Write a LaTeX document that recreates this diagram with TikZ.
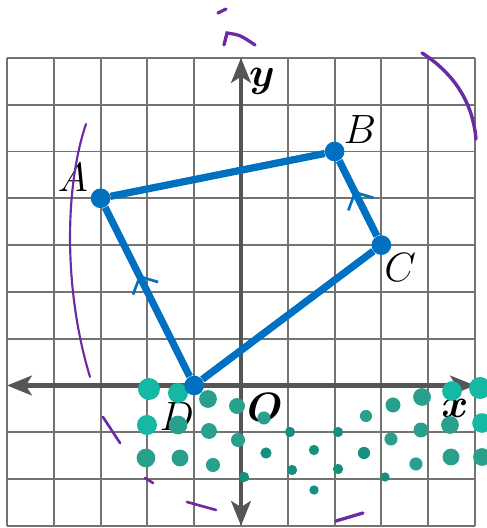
\documentclass[tikz,border=0pt]{standalone}
\usepackage{tikz}
\usepackage{mathtools}
\usepackage{bm}
\usetikzlibrary{positioning, arrows.meta, calc, decorations.markings}

\definecolor{quadblue}{RGB}{0,112,192}
\definecolor{gridgray}{RGB}{115,115,115}
\definecolor{axisgray}{RGB}{85,85,85}
\definecolor{inkpurple}{RGB}{108,42,166}
\definecolor{tealA}{RGB}{20,184,164}
\definecolor{tealB}{RGB}{40,160,140}
\definecolor{tealC}{RGB}{22,143,128}

\newcommand{\labelfont}{\fontsize{26pt}{30pt}\selectfont}

\begin{document}
\begin{tikzpicture}[
	gridline/.style={gridgray, line width=1.1pt},
	axisline/.style={axisgray, line width=2.8pt, {Stealth[length=5.3mm, width=4.2mm, inset=1.3mm]}-{Stealth[length=5.3mm, width=4.2mm, inset=1.3mm]}},
	side/.style={quadblue, line width=4.4pt},
	midarrow/.style={side, postaction={decorate}, decoration={markings, mark=at position 0.6 with {\arrow{Straight Barb[length=2.8mm, width=6mm, line width=1.6pt]}}}},
	vtx/.style={circle, fill=quadblue, inner sep=0pt, minimum size=4.2mm},
	lbl/.style={font=\labelfont, inner sep=0pt},
	ink/.style={inkpurple, line width=1.6pt, line cap=round}
]
	\useasboundingbox (-5.1496,-3.0449) rectangle (5.2564,8.2372);

	\draw[gridline] (-5,-3) grid (5,7);
	\coordinate (xl) at (-5,0);
	\coordinate (xr) at (5,0);
	\coordinate (yb) at (0,-3);
	\coordinate (yt) at (0,7);
	\draw[axisline] (xl) -- (xr);
	\draw[axisline] (yb) -- (yt);

	\node[lbl] (lbly) at (0.45,6.50) {$\bm{y}$};
	\node[lbl] (lblx) at (4.57,-0.48) {$\bm{x}$};
	\node[lbl] (lblO) at (0.51,-0.46) {$\bm{O}$};
	\node[lbl] (lblA) at (-3.59,4.45) {$A$};
	\node[lbl] (lblB) at (2.54,5.46) {$B$};
	\node[lbl] (lblC) at (3.40,2.53) {$C$};
	\node[lbl] (lblD) at (-1.37,-0.67) {$D$};

	% scattered teal spots over the lower strip
	\foreach \x/\y/\r/\c in {
		-1.966/-0.075/0.235/tealA, -1.346/-0.160/0.214/tealA, -0.705/-0.288/0.19/tealB,
		-0.085/-0.438/0.17/tealB, -2.009/-0.844/0.214/tealA, -1.346/-0.844/0.2/tealB,
		-0.684/-0.972/0.17/tealB, -0.064/-1.165/0.15/tealB, 0.491/-0.694/0.14/tealB,
		1.047/-0.994/0.11/tealC, -2.030/-1.549/0.2/tealB, -1.303/-1.549/0.18/tealB,
		-0.598/-1.699/0.15/tealB, 0.064/-1.955/0.11/tealC, 0.534/-1.442/0.12/tealC,
		1.560/-1.378/0.11/tealC, 1.090/-1.806/0.11/tealC, 1.560/-2.233/0.1/tealC,
		2.073/-0.994/0.11/tealC, 2.073/-1.784/0.11/tealC, 2.628/-1.442/0.13/tealC,
		2.671/-0.652/0.13/tealB, 3.077/-1.955/0.1/tealC, 3.248/-0.417/0.16/tealB,
		3.205/-1.143/0.14/tealB, 3.739/-1.677/0.14/tealB, 3.868/-0.246/0.19/tealB,
		3.846/-0.951/0.16/tealB, 4.509/-0.118/0.21/tealA, 4.466/-0.844/0.19/tealB,
		4.487/-1.528/0.18/tealB, 5.107/-0.053/0.235/tealA, 5.150/-0.801/0.21/tealA,
		5.150/-1.528/0.19/tealB}{
		\fill[\c] (\x,\y) circle (\r);
	}

	\node[vtx] (A) at (-3,4) {};
	\node[vtx] (B) at (2,5) {};
	\node[vtx] (C) at (3,3) {};
	\node[vtx] (D) at (-1,0) {};
	\draw[side] (A) -- (B);
	\draw[midarrow] (C) -- (B);
	\draw[side] (C) -- (D);
	\draw[midarrow] (D) -- (A);

	% pen strokes
	\draw[ink, line width=2pt] (-0.491,7.959) -- (-0.321,8.045);
	\draw[ink, line width=2pt] (-0.363,7.276) -- (-0.299,7.532) .. controls (-0.02,7.49) .. (0.299,7.276);
	\draw[ink, line width=2.1pt] (3.868,7.105) .. controls (4.5,6.7) and (4.95,6.1) .. (5.021,5.267);
	\draw[ink, line width=1.3pt] (-3.312,5.588) .. controls (-3.78,4.2) and (-3.78,2.0) .. (-3.226,0.182);
	\draw[ink] (-2.949,-0.673) -- (-2.585,-1.229);
	\draw[ink] (-2.051,-1.976) -- (-1.880,-2.083);
	\draw[ink] (-1.154,-2.489) -- (-0.534,-2.660);
	\draw[ink, line width=2pt] (2.030,-2.895) -- (2.607,-2.724);
\end{tikzpicture}
\end{document}
